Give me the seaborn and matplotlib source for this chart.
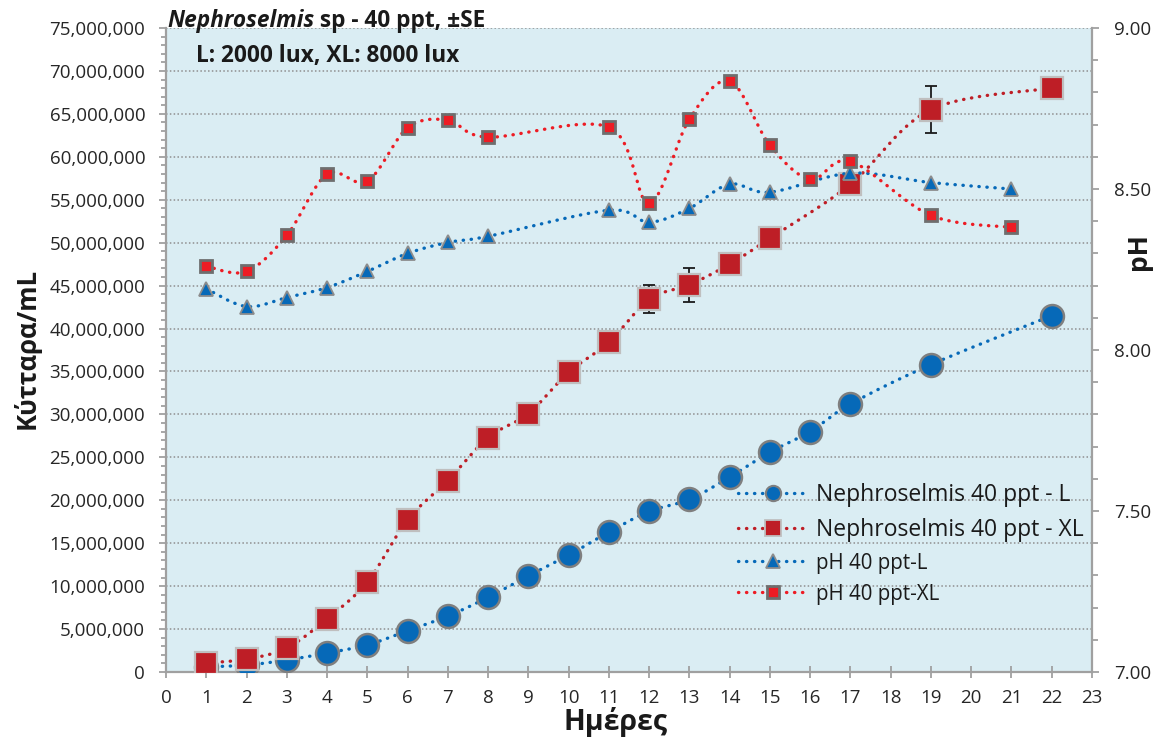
import numpy as np
import matplotlib
matplotlib.use("Agg")
import matplotlib.pyplot as plt
import seaborn as sns
import pandas as pd
from matplotlib.lines import Line2D
from matplotlib.ticker import MultipleLocator, FuncFormatter, FormatStrFormatter

# ---------------- data ----------------
days_L = [1, 2, 3, 4, 5, 6, 7, 8, 9, 10, 11, 12, 13, 14, 15, 16, 17, 19, 22]
cells_L = [0.6e6, 0.8e6, 1.4e6, 2.2e6, 3.15e6, 4.8e6, 6.5e6, 8.7e6, 11.2e6, 13.6e6,
           16.3e6, 18.7e6, 20.1e6, 22.7e6, 25.6e6, 28.0e6, 31.2e6, 35.8e6, 41.5e6]

days_XL = [1, 2, 3, 4, 5, 6, 7, 8, 9, 10, 11, 12, 13, 14, 15, 17, 19, 22]
cells_XL = [1.05e6, 1.5e6, 2.8e6, 6.2e6, 10.5e6, 17.7e6, 22.3e6, 27.3e6, 30.1e6, 34.9e6,
            38.4e6, 43.4e6, 45.1e6, 47.5e6, 50.5e6, 56.8e6, 65.5e6, 68.0e6]
se_XL = [0, 0, 0, 0, 0, 0, 0, 0, 0, 0, 0, 1.63e6, 2.0e6, 0, 0, 0, 2.7e6, 0]

days_pH_L = [1, 2, 3, 4, 5, 6, 7, 8, 11, 12, 13, 14, 15, 17, 19, 21]
pH_L = [8.19, 8.135, 8.163, 8.194, 8.244, 8.30, 8.334, 8.353, 8.434, 8.397, 8.44,
        8.515, 8.49, 8.549, 8.52, 8.50]

days_pH_XL = [1, 2, 3, 4, 5, 6, 7, 8, 11, 12, 13, 14, 15, 16, 17, 19, 21]
pH_XL = [8.26, 8.244, 8.356, 8.546, 8.524, 8.69, 8.714, 8.661, 8.692, 8.456, 8.717,
         8.835, 8.636, 8.53, 8.586, 8.418, 8.381]

x_ticks = list(range(0, 24))
series_labels = ["Nephroselmis 40 ppt - L", "Nephroselmis 40 ppt - XL",
                 "pH 40 ppt-L", "pH 40 ppt-XL"]
title_italic = "Nephroselmis"
title_rest = " sp - 40 ppt, \u00b1SE"
title_line2 = "L: 2000 lux, XL: 8000 lux"
ylabel_left = "Κύτταρα/mL"
ylabel_right = "pH"
xlabel = "Ημέρες"

# ---------------- style ----------------
sns.set_theme(style="white")
plt.rcParams['font.family'] = ['Open Sans', 'DejaVu Sans']

W, H = 1166, 738
fig = plt.figure(figsize=(W / 100, H / 100), dpi=100)
L, R, T, B = 166, 1092, 28, 672
ax = fig.add_axes([L / W, 1 - B / H, (R - L) / W, (B - T) / H])
ax.set_facecolor('#DAEDF3')
ax.set_xlim(0, 23)
ax.set_ylim(0, 75e6)
ax2 = ax.twinx()
ax2.set_ylim(7, 9)

BLUE = '#0669B8'
DRED = '#BE1E26'
BRED = '#ED1C24'
GRAY = '#A0A0A0'
DOT = (0, (0.1, 2.3))


def smooth(axis, x, y, n=24):
    pts = axis.transData.transform(np.column_stack([x, y]))
    P = np.vstack([pts[0], pts, pts[-1]])
    out = []
    t = np.linspace(0, 1, n, endpoint=False)[:, None]
    for i in range(1, len(P) - 2):
        p0, p1, p2, p3 = P[i - 1], P[i], P[i + 1], P[i + 2]
        c1 = p1 + (p2 - p0) / 6
        c2 = p2 - (p3 - p1) / 6
        seg = (1 - t) ** 3 * p1 + 3 * (1 - t) ** 2 * t * c1 + 3 * (1 - t) * t ** 2 * c2 + t ** 3 * p2
        out.append(seg)
    out.append(P[-2][None, :])
    c = axis.transData.inverted().transform(np.vstack(out))
    return pd.DataFrame({"x": c[:, 0], "y": c[:, 1]})


def draw(axis, x, y, color, marker, ms, mfc, mec, mew, z):
    c = smooth(axis, x, y)
    sns.lineplot(data=c, x="x", y="y", ax=axis, sort=False, estimator=None, color=color,
                 lw=2.4, linestyle=DOT, dash_capstyle='round', zorder=z)
    axis.plot(x, y, linestyle='none', marker=marker, ms=ms, mfc=mfc, mec=mec, mew=mew,
              zorder=z + 1)


# growth series (primary axis)
draw(ax, days_L, cells_L, BLUE, 'o', 16.5, BLUE, '#7F7F7F', 1.8, 3)
ax.errorbar(days_XL, cells_XL, yerr=se_XL, fmt='none', ecolor='#1A1A1A',
            elinewidth=1.3, capsize=4.3, capthick=1.3, zorder=4.5)
draw(ax, days_XL, cells_XL, DRED, 's', 16, DRED, '#BFBFBF', 1.6, 5)

# pH series (secondary axis)
draw(ax2, days_pH_L, pH_L, BLUE, '^', 9.5, BLUE, '#8C8C8C', 1.3, 3)
draw(ax2, days_pH_XL, pH_XL, BRED, 's', 8.5, BRED, '#6E6E6E', 2.0, 5)

ax.set_xlabel("")
ax.set_ylabel("")
ax2.set_ylabel("")

# grid
ax.set_axisbelow(True)
ax.yaxis.grid(True, which='major', color='#8F8F8F', linestyle=(0, (1, 1.5)), linewidth=1.1)
ax.xaxis.grid(False)

# spines
for s in ['top', 'right']:
    ax.spines[s].set_visible(False)
for s in ['left', 'bottom']:
    ax.spines[s].set_color(GRAY)
    ax.spines[s].set_linewidth(1.6)
for s in ['top', 'left', 'bottom']:
    ax2.spines[s].set_visible(False)
ax2.spines['right'].set_color(GRAY)
ax2.spines['right'].set_linewidth(1.6)

# ticks
ax.set_xticks(x_ticks)
ax.set_xticklabels([str(v) for v in x_ticks])
ax.tick_params(axis='x', which='major', direction='inout', length=9, width=1.3, color=GRAY,
               labelsize=13.5, labelcolor='#262626', pad=8, bottom=True)
ax.yaxis.set_major_locator(MultipleLocator(5e6))
ax.yaxis.set_minor_locator(MultipleLocator(1e6))
ax.yaxis.set_major_formatter(FuncFormatter(lambda v, p: f"{int(round(v)):,}"))
ax.tick_params(axis='y', which='major', direction='out', length=5, width=1.3, color=GRAY,
               labelsize=13.5, labelcolor='#262626', pad=10, left=True)
ax.tick_params(axis='y', which='minor', direction='out', length=3.6, width=1.3, color=GRAY, left=True)

ax2.yaxis.set_major_locator(MultipleLocator(0.5))
ax2.yaxis.set_minor_locator(MultipleLocator(0.1))
ax2.yaxis.set_major_formatter(FormatStrFormatter('%.2f'))
ax2.tick_params(axis='y', which='major', direction='out', length=5, width=1.3, color=GRAY,
                labelsize=13.5, labelcolor='#262626', pad=11, right=True)
ax2.tick_params(axis='y', which='minor', direction='out', length=4.3, width=1.3, color=GRAY, right=True)
ax2.grid(False)

# axis titles
fig.text(27 / W, 1 - 348 / H, ylabel_left, rotation=90, ha='center', va='center',
         fontsize=18.5, fontweight='bold', color='#1A1A1A')
fig.text(1138 / W, 1 - 252 / H, ylabel_right, rotation=90, ha='center', va='center',
         fontsize=19, fontweight='bold', color='#1A1A1A')
fig.text(615 / W, 1 - 722 / H, xlabel, ha='center', va='center',
         fontsize=20.5, fontweight='bold', color='#1A1A1A')

# chart title (two lines)
TS = 16.3
t1 = fig.text(167 / W, 1 - 27 / H, title_italic, ha='left', va='baseline', fontsize=TS,
              fontweight='bold', fontstyle='italic', color='#1A1A1A')
renderer = fig.canvas.get_renderer()
bb = t1.get_window_extent(renderer)
fig.text(bb.x1 / W, 1 - 27 / H, title_rest, ha='left', va='baseline', fontsize=TS,
         fontweight='bold', color='#1A1A1A')
fig.text(196 / W, 1 - 62 / H, title_line2, ha='left', va='baseline', fontsize=TS,
         fontweight='bold', color='#1A1A1A')

# legend
handles = [
    Line2D([], [], color=BLUE, lw=2.4, linestyle=DOT, dash_capstyle='round', marker='o',
           ms=11, mfc=BLUE, mec='#7F7F7F', mew=1.5),
    Line2D([], [], color=DRED, lw=2.4, linestyle=DOT, dash_capstyle='round', marker='s',
           ms=11, mfc=DRED, mec='#BFBFBF', mew=1.3),
    Line2D([], [], color=BLUE, lw=2.4, linestyle=DOT, dash_capstyle='round', marker='^',
           ms=10, mfc=BLUE, mec='#8C8C8C', mew=1.3),
    Line2D([], [], color=BRED, lw=2.4, linestyle=DOT, dash_capstyle='round', marker='s',
           ms=9, mfc=BRED, mec='#6E6E6E', mew=2.0),
]
leg = ax2.legend(handles, series_labels, loc='upper left',
                 bbox_to_anchor=(738 / W, 1 - 483 / H), bbox_transform=fig.transFigure,
                 frameon=False, borderpad=0, borderaxespad=0, handlelength=3.05,
                 handletextpad=0.35, labelspacing=0.47, numpoints=1, fontsize=16.5)
for i, txt in enumerate(leg.get_texts()):
    txt.set_color('#1A1A1A')
    if i >= 2:
        txt.set_fontsize(14.8)

fig.savefig("out.png", dpi=100)
